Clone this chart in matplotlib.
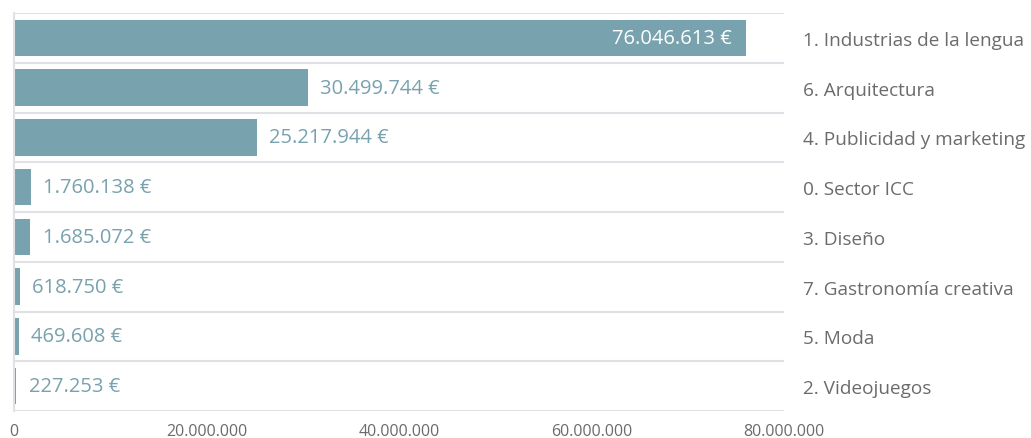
import matplotlib.pyplot as plt

plt.rcParams['font.family'] = ['Open Sans', 'DejaVu Sans']

# Datos (de arriba a abajo)
sectores = ['1. Industrias de la lengua', '6. Arquitectura', '4. Publicidad y marketing',
            '0. Sector ICC', '3. Diseño', '7. Gastronomía creativa', '5. Moda', '2. Videojuegos']
importes = [76046613, 30499744, 25217944, 1760138, 1685072, 618750, 469608, 227253]
ticks_x = [0, 20000000, 40000000, 60000000, 80000000]

color_barra = '#78a2ae'
color_grid = '#e1e0e7'
color_texto = '#6b6b6b'

def miles(v):
    return '{:,}'.format(int(v)).replace(',', '.')

fig = plt.figure(figsize=(10.31, 4.39), dpi=100)
ax = fig.add_axes([14/1031, 1 - 412/439, (784-14)/1031, (412-14)/439])

n = len(sectores)
y = list(range(n))
ax.barh(y, importes, height=0.73, color=color_barra, zorder=2)
ax.set_xlim(0, 80000000)
ax.set_ylim(n - 0.5, -0.5)

# lineas entre filas
for b in range(n + 1):
    ax.axhline(b - 0.5, color=color_grid, linewidth=1.5, zorder=1)

for s in ['top', 'right', 'bottom']:
    ax.spines[s].set_visible(False)
ax.spines['left'].set_color(color_grid)
ax.spines['left'].set_linewidth(1.5)

ax.set_xticks(ticks_x)
ax.set_xticklabels([miles(t) for t in ticks_x], fontsize=11.5, color=color_texto)
ax.tick_params(axis='x', length=0, pad=9)

ax.yaxis.tick_right()
ax.set_yticks(y)
ax.set_yticklabels(sectores, fontsize=13.7, color=color_texto, ha='left', va='center_baseline')
ax.tick_params(axis='y', length=0, pad=14)

for i, v in enumerate(importes):
    txt = miles(v) + ' €'
    if v > 60000000:
        ax.annotate(txt, (v, i), xytext=(-10, 0), textcoords='offset points',
                    ha='right', va='center', fontsize=14.5, color='white', zorder=3)
    else:
        ax.annotate(txt, (v, i), xytext=(9, 0), textcoords='offset points',
                    ha='left', va='center', fontsize=14.5, color=color_barra, zorder=3)

fig.savefig('out.png', dpi=100)
